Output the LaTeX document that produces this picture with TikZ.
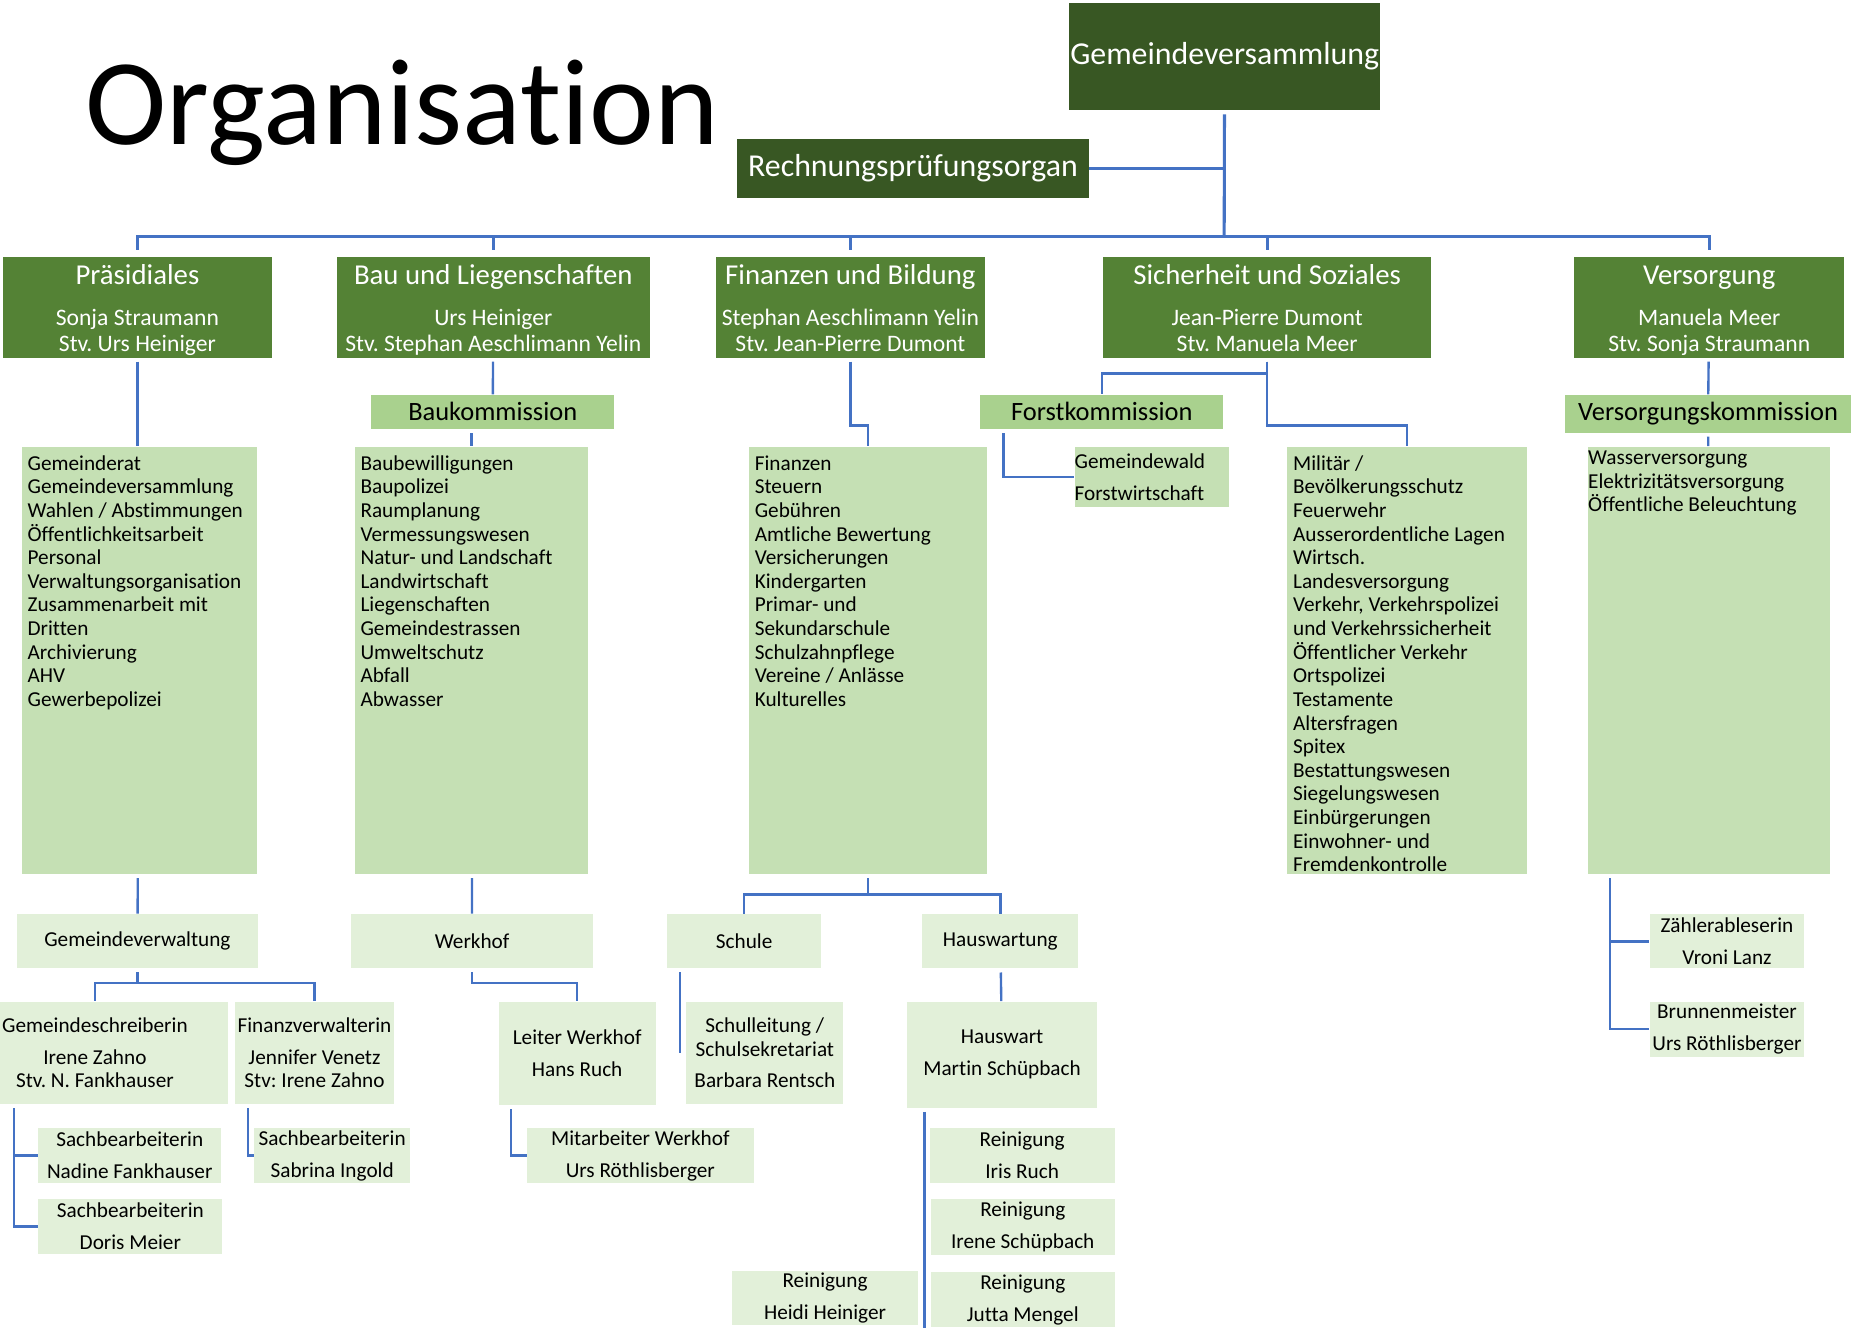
\documentclass[tikz,border=0pt]{standalone}
\usepackage{fontspec}
\setmainfont{Carlito}[Ligatures = NoCommon]
\frenchspacing
\definecolor{dunkelgruen}{HTML}{385723}
\definecolor{mittelgruen}{HTML}{548235}
\definecolor{hellgruen}{HTML}{A9D18E}
\definecolor{listgruen}{HTML}{C5E0B4}
\definecolor{blassgruen}{HTML}{E2F0D9}
\definecolor{linienblau}{HTML}{4472C4}

\begin{document}
\begin{tikzpicture}[x = 0.5pt, y = -0.5pt,
    topbox/.style = {anchor = north west, fill = dunkelgruen, text = white, inner sep = 0pt, font = \fontsize{13.5}{16}\selectfont},
    ressort/.style = {anchor = north west, fill = mittelgruen, text = white, inner sep = 0pt, align = center, minimum height = 42.5pt, font = \fontsize{10}{11}\selectfont},
    kommission/.style = {anchor = north west, fill = hellgruen, inner sep = 0pt, font = \fontsize{11.2}{13}\selectfont},
    aufgaben/.style = {anchor = north west, fill = listgruen, inner xsep = 2.5pt, inner ysep = 3pt, font = \fontsize{9}{10}\selectfont},
    stelle/.style = {anchor = north west, fill = blassgruen, inner sep = 0pt, align = center, font = \fontsize{9}{10}\selectfont},
    linie/.style = {draw = linienblau, line width = 1pt, shorten <=1.5pt}]

    \useasboundingbox (0,0) rectangle (1568,1125);

    \node[anchor = base west, inner sep = 0pt, font = \fontsize{52}{60}\selectfont] (titel) at (72,122) {Organisation};

    \node[topbox, minimum width = 132pt, minimum height = 45.5pt] (gv) at (905,2) {Gemeindeversammlung};
    \node[topbox, minimum width = 149pt, minimum height = 25pt] (rp) at (624,117) {Rechnungsprüfungsorgan};

    \node[ressort, minimum width = 114pt] (pr) at (2,217) {{\fontsize{12.2}{14}\selectfont\rule{0pt}{12pt}Präsidiales}\\[6.25pt]Sonja Straumann\\Stv. Urs Heiniger\rule[-2.5pt]{0pt}{2.5pt}};
    \node[ressort, minimum width = 132.5pt] (bl) at (285,217) {{\fontsize{12.2}{14}\selectfont\rule{0pt}{12pt}Bau und Liegenschaften}\\[6.25pt]Urs Heiniger\\Stv. Stephan Aeschlimann Yelin\rule[-2.5pt]{0pt}{2.5pt}};
    \node[ressort, minimum width = 114pt] (fb) at (606,217) {{\fontsize{12.2}{14}\selectfont\rule{0pt}{12pt}Finanzen und Bildung}\\[6.25pt]Stephan Aeschlimann Yelin\\Stv. Jean-Pierre Dumont\rule[-2.5pt]{0pt}{2.5pt}};
    \node[ressort, minimum width = 139pt] (ss) at (934,217) {{\fontsize{12.2}{14}\selectfont\rule{0pt}{12pt}Sicherheit und Soziales}\\[6.25pt]Jean-Pierre Dumont\\Stv. Manuela Meer\rule[-2.5pt]{0pt}{2.5pt}};
    \node[ressort, minimum width = 114.5pt] (vs) at (1333,217) {{\fontsize{12.2}{14}\selectfont\rule{0pt}{12pt}Versorgung}\\[6.25pt]Manuela Meer\\Stv. Sonja Straumann\rule[-2.5pt]{0pt}{2.5pt}};

    \node[kommission, minimum width = 103pt, minimum height = 14.5pt] (bk) at (314,334) {Baukommission};
    \node[kommission, minimum width = 103pt, minimum height = 14.5pt] (fk) at (830,334) {Forstkommission};
    \node[kommission, minimum width = 121.5pt, minimum height = 16pt] (vk) at (1325,334) {Versorgungskommission};

    \node[aufgaben] (lp) at (18,378) {\parbox[t][175pt][t]{94.5pt}{\strut Gemeinderat\\Gemeindeversammlung\\Wahlen / Abstimmungen\\Öffentlichkeitsarbeit\\Personal\\Verwaltungsorganisation\\Zusammenarbeit mit\\Dritten\\Archivierung\\AHV\\Gewerbepolizei}};
    \node[aufgaben] (lb) at (300,378) {\parbox[t][175pt][t]{94pt}{\strut Baubewilligungen\\Baupolizei\\Raumplanung\\Vermessungswesen\\Natur- und Landschaft\\Landwirtschaft\\Liegenschaften\\Gemeindestrassen\\Umweltschutz\\Abfall\\Abwasser}};
    \node[aufgaben] (lf) at (634,378) {\parbox[t][175pt][t]{96pt}{\strut Finanzen\\Steuern\\Gebühren\\Amtliche Bewertung\\Versicherungen\\Kindergarten\\Primar- und\\Sekundarschule\\Schulzahnpflege\\Vereine / Anlässe\\Kulturelles}};
    \node[aufgaben] (ls) at (1090,378) {\parbox[t][175pt][t]{96.5pt}{\strut Militär /\\Bevölkerungsschutz\\Feuerwehr\\Ausserordentliche Lagen\\Wirtsch.\\Landesversorgung\\Verkehr, Verkehrspolizei\\und Verkehrssicherheit\\Öffentlicher Verkehr\\Ortspolizei\\Testamente\\Altersfragen\\Spitex\\Bestattungswesen\\Siegelungswesen\\Einbürgerungen\\Einwohner- und\\Fremdenkontrolle}};
    \node[aufgaben, inner xsep = 0pt, inner ysep = 0.5pt] (lv) at (1345,378) {\parbox[t][180pt][t]{102.5pt}{\strut Wasserversorgung\\Elektrizitätsversorgung\\Öffentliche Beleuchtung}};
    \node[stelle, fill = listgruen, align = left, text width = 65.5pt, minimum height = 25.5pt] (fw) at (910,378) {Gemeindewald\\[3.5pt]Forstwirtschaft};

    \node[stelle, minimum width = 102pt, minimum height = 23pt] (gvw) at (14,774) {Gemeindeverwaltung};
    \node[stelle, minimum width = 102.5pt, minimum height = 23pt] (wh) at (297,774) {Werkhof};
    \node[stelle, minimum width = 65pt, minimum height = 23pt] (sch) at (565,774) {Schule};
    \node[stelle, minimum width = 66pt, minimum height = 23pt] (hw) at (781,774) {Hauswartung};
    \node[stelle, minimum width = 65.5pt, minimum height = 23pt] (za) at (1397,774) {Zählerableserin\\[3.5pt]Vroni Lanz};
    \node[stelle, minimum width = 65.5pt, minimum height = 23.5pt] (br) at (1397,848) {Brunnenmeister\\[3.5pt]Urs Röthlisberger};

    \node[stelle, minimum width = 113pt, minimum height = 43.5pt] (gs) at (-33,848) {Gemeindeschreiberin\\[3.5pt]Irene Zahno\\Stv. N. Fankhauser};
    \node[stelle, minimum width = 67pt, minimum height = 43.5pt] (fv) at (199,848) {Finanzverwalterin\\[3.5pt]Jennifer Venetz\\Stv: Irene Zahno};
    \node[stelle, minimum width = 66.5pt, minimum height = 44pt] (lwh) at (422,848) {Leiter Werkhof\\[3.5pt]Hans Ruch};
    \node[stelle, minimum width = 66.5pt, minimum height = 43.5pt] (sl) at (581,848) {Schulleitung /\\Schulsekretariat\\[3.5pt]Barbara Rentsch};
    \node[stelle, minimum width = 80.5pt, minimum height = 45pt] (hwt) at (768,848) {Hauswart\\[3.5pt]Martin Schüpbach};

    \node[stelle, minimum width = 77.5pt, minimum height = 23.5pt] (sb1) at (32,955) {Sachbearbeiterin\\[3.5pt]Nadine Fankhauser};
    \node[stelle, minimum width = 78pt, minimum height = 23.5pt] (sb2) at (32,1015) {Sachbearbeiterin\\[3.5pt]Doris Meier};
    \node[stelle, minimum width = 66pt, minimum height = 23.5pt] (sb3) at (215,955) {Sachbearbeiterin\\[3.5pt]Sabrina Ingold};
    \node[stelle, minimum width = 96pt, minimum height = 23.5pt] (mw) at (446,955) {Mitarbeiter Werkhof\\[3.5pt]Urs Röthlisberger};
    \node[stelle, minimum width = 78.5pt, minimum height = 23.5pt] (r1) at (787,955) {Reinigung\\[3.5pt]Iris Ruch};
    \node[stelle, minimum width = 78pt, minimum height = 24pt] (r2) at (788,1015) {Reinigung\\[3.5pt]Irene Schüpbach};
    \node[stelle, minimum width = 78pt, minimum height = 23.5pt] (r3) at (788,1077) {Reinigung\\[3.5pt]Jutta Mengel};
    \node[stelle, minimum width = 78.5pt, minimum height = 23pt] (r4) at (620,1076) {Reinigung\\[3.5pt]Heidi Heiniger};

    \coordinate (sammel) at (1037,200);
    \draw[linie, line width = 1.3pt] (gv) -- (sammel);
    \draw[linie, line width = 1.3pt, shorten <=0pt] (rp.east) -- (rp.east -| sammel);
    \foreach \r in {pr,bl,fb,ss,vs}
        \draw[linie, line width = 1.3pt, shorten <=0pt, shorten >=2.5pt] (sammel) -| (\r.north);

    \draw[linie] (pr) -- (pr.south |- lp.north);
    \draw[linie] (bl) -- (bk);
    \draw[linie] (bk.south -| lb.north) -- (lb.north);
    \draw[linie] (fb.south) -- ++(0,57) -| (lf.north);
    \draw[linie] (ss.south) -- ++(0,13) -| (fk.north);
    \draw[linie] (ss.south) -- ++(0,57) -| (ls.north);
    \draw[linie] ([xshift = 10pt]fk.south west) |- (fw.west);
    \draw[linie] (vs) -- (vk);
    \draw[linie] (vk) -- (lv);

    \draw[linie] (lp) -- (gvw);
    \draw[linie] (gvw.south) -- ++(0,12) -| (gs.north);
    \draw[linie] (gvw.south) -- ++(0,12) -| (fv.north);
    \draw[linie] (lb) -- (wh);
    \draw[linie] (wh.south) -- ++(0,12) -| (lwh.north);
    \draw[linie] (lf.south) -- ++(0,17) -| (sch.north);
    \draw[linie] (lf.south) -- ++(0,17) -| (hw.north);
    \draw[linie] ([xshift = 5.5pt]sch.south west) -- ([xshift = 5.5pt]sch.south west |- sl.west);
    \draw[linie] (hw) -- (hwt);
    \draw[linie] ([xshift = 7.5pt]hwt.south west) -- ([xshift = 7.5pt]hwt.south west |- r3.south);
    \draw[linie] ([xshift = 22.5pt]gs.south west) |- (sb1.west);
    \draw[linie] ([xshift = 22.5pt]gs.south west) |- (sb2.west);
    \draw[linie] ([xshift = 5.5pt]fv.south west) |- (sb3.west);
    \draw[linie] ([xshift = 5.5pt]lwh.south west) |- (mw.west);
    \draw[linie] ([xshift = 9.5pt]lv.south west) |- (za.west);
    \draw[linie] ([xshift = 9.5pt]lv.south west) |- (br.west);
\end{tikzpicture}
\end{document}
